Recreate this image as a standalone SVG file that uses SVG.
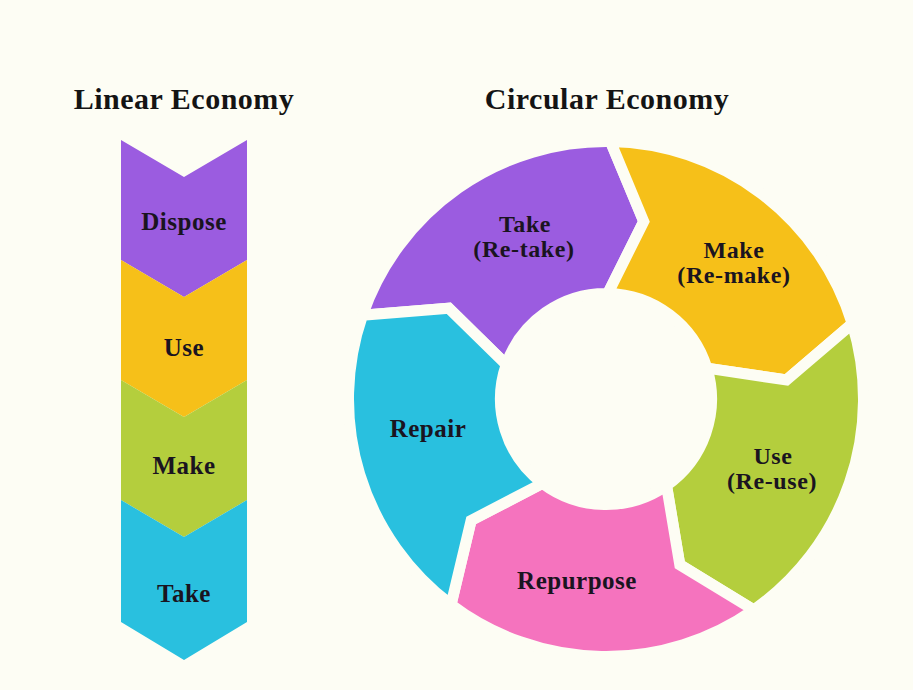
<svg xmlns="http://www.w3.org/2000/svg" width="913" height="690" viewBox="0 0 913 690">
  <style>
    .bg { fill: #FDFDF4; }
    .title { font-family: "Liberation Serif", "Times New Roman", serif; font-weight: bold; font-size: 30px; letter-spacing: 0.5px; fill: #141414; text-anchor: middle; }
    .label { font-family: "Liberation Serif", "Times New Roman", serif; font-weight: bold; font-size: 25px; letter-spacing: 0.5px; fill: #1a1420; text-anchor: middle; }
    .label2 { font-family: "Liberation Serif", "Times New Roman", serif; font-weight: bold; font-size: 24px; letter-spacing: 0.6px; fill: #1a1420; text-anchor: middle; }
    .seg { stroke: #FDFDF4; stroke-width: 11; stroke-linejoin: miter; }
    .purple { fill: #9B5CE0; }
    .yellow { fill: #F6C019; }
    .green { fill: #B4CE3D; }
    .blue { fill: #29C0DF; }
    .pink { fill: #F573BE; }
  </style>

  <rect class="bg" x="0" y="0" width="913" height="690"/>

  <!-- Titles -->
  <text class="title" x="184" y="109">Linear Economy</text>
  <text class="title" x="607" y="109">Circular Economy</text>

  <!-- Linear economy: stacked chevrons, 120px pitch, 37px point depth -->
  <g id="linear-dispose">
    <polygon class="purple" points="121,140 184,177 247,140 247,260 184,297 121,260"/>
    <text class="label" x="184" y="230">Dispose</text>
  </g>
  <g id="linear-use">
    <polygon class="yellow" points="121,260 184,297 247,260 247,380 184,417 121,380"/>
    <text class="label" x="184" y="356">Use</text>
  </g>
  <g id="linear-make">
    <polygon class="green" points="121,380 184,417 247,380 247,500 184,537 121,500"/>
    <text class="label" x="184" y="474">Make</text>
  </g>
  <g id="linear-take">
    <polygon class="blue" points="121,500 184,537 247,500 247,622 184,660 121,622"/>
    <text class="label" x="184" y="602">Take</text>
  </g>

  <!-- Circular economy: ring centred at (606,399); gaps come from the background-coloured stroke -->
  <g id="circ-take">
    <path class="seg purple" d="M362.53,315.17 A257.5,257.5 0 0 1 610.49,141.54 L643.74,221.47 L607.84,293.52 A105.5,105.5 0 0 0 506.25,364.65 L448.82,308.25 Z"/>
    <text class="label2" x="525" y="232">Take</text>
    <text class="label2" x="524" y="257">(Re-take)</text>
  </g>
  <g id="circ-make">
    <path class="seg yellow" d="M610.49,141.54 A257.5,257.5 0 0 1 852.25,323.71 L786.51,380.03 L706.89,368.15 A105.5,105.5 0 0 0 607.84,293.52 L643.74,221.47 Z"/>
    <text class="label2" x="734" y="258">Make</text>
    <text class="label2" x="734" y="283">(Re-make)</text>
  </g>
  <g id="circ-use">
    <path class="seg green" d="M852.25,323.71 A257.5,257.5 0 0 1 753.70,609.93 L679.82,564.81 L666.51,485.42 A105.5,105.5 0 0 0 706.89,368.15 L786.51,380.03 Z"/>
    <text class="label2" x="773" y="464">Use</text>
    <text class="label2" x="772" y="489">(Re-use)</text>
  </g>
  <g id="circ-repurpose">
    <path class="seg pink" d="M753.70,609.93 A257.5,257.5 0 0 1 451.03,604.65 L471.12,520.45 L542.51,483.26 A105.5,105.5 0 0 0 666.51,485.42 L679.82,564.81 Z"/>
    <text class="label" x="577" y="589">Repurpose</text>
  </g>
  <g id="circ-repair">
    <path class="seg blue" d="M451.03,604.65 A257.5,257.5 0 0 1 362.53,315.17 L448.82,308.25 L506.25,364.65 A105.5,105.5 0 0 0 542.51,483.26 L471.12,520.45 Z"/>
    <text class="label" x="428" y="437">Repair</text>
  </g>

  <g id="connectors"/>
</svg>
